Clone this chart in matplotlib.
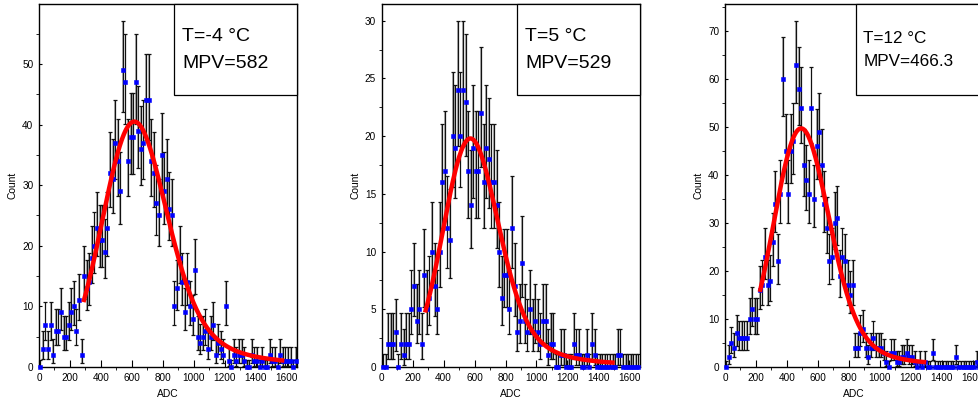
import math
import numpy as np
import matplotlib
matplotlib.use("Agg")
import matplotlib.pyplot as plt
from matplotlib.patches import Rectangle
from matplotlib.ticker import MultipleLocator

plt.rcParams['font.family'] = ['Liberation Sans', 'DejaVu Sans']

# histogram: 100 bins from 0 to 1666.7 ADC
adc_max = 1666.7
n_bins = 100

counts_m4 = [0, 3, 7, 3, 7, 2, 6, 6, 9, 5, 5, 7, 9, 10, 6, 11, 2,
             15, 13, 14, 18, 20, 23, 21, 21, 19, 23, 32, 31,
             37, 34, 29, 49, 47, 34, 38, 38, 47, 39, 36, 37, 44, 44, 34,
             32, 27, 25, 35, 29, 31, 26, 25,
             10, 13, 18, 14, 9, 14, 10, 8, 16,
             5, 4, 5, 6, 3, 5, 7, 2, 4, 3, 2, 10,
             1, 0, 2, 1, 2, 2, 1, 0, 0, 2, 1, 1, 0, 1, 0, 0, 2, 1, 1, 0, 2,
             1, 1, 1, 1, 0, 1]

counts_p5 = [0, 0, 2, 2, 2, 3, 0, 2, 1, 2, 2, 5, 7, 4, 5, 2, 8, 5, 6, 10, 7,
             5, 10, 16, 17, 12, 11, 20, 19, 24, 20, 24, 23, 17, 14, 19, 17, 17,
             22, 16, 19, 18, 16, 16,
             14, 10, 6, 8, 8, 5, 12, 7, 3, 4, 9, 4, 3,
             5, 3, 4, 3, 2, 4, 4, 1, 2, 2,
             0, 0, 1, 1, 0, 0, 0, 2, 1, 1, 0, 0, 1, 0, 2, 1,
             0, 0, 0, 0, 0, 0, 0, 0, 1, 1, 0, 0, 0, 0, 0, 0, 0]

counts_p12 = [0, 2, 5, 4, 7, 6, 6, 6, 6, 10, 12, 10, 10, 16, 17,
              23, 17, 18, 26, 34, 22, 36, 60, 45, 36, 45, 47,
              63, 58, 54, 42, 39, 36, 54, 35, 46, 49, 42, 34, 29, 22, 23, 30,
              31, 19, 23, 22, 17, 15, 17, 4, 4,
              7, 8, 4, 2, 4, 6, 4, 4, 4, 3, 1, 0, 3, 3, 1, 1, 2, 2, 3, 2, 2, 1, 0,
              1, 0, 1, 0, 0, 3, 0, 0, 0, 0, 0, 0, 0, 0, 2, 0, 0, 0, 0, 0, 0, 0,
              1, 0, 0]

temps = ["-4", "5", "12"]
mpv_text = ["582", "529", "466.3"]

# fitted landau (x) gauss curve
fit_peak_x = [615, 572, 492]
fit_peak_y = [40.5, 19.8, 49.7]
fit_landau_w = [35, 28, 22]
fit_gauss_sigma = [185, 160, 165]
fit_lo = [287, 280, 225]
fit_hi = [1585, 1505, 1300]

y_top = [59.9, 31.45, 75.6]
y_major = [10, 5, 10]
y_minor = [5, 2.5, 5]


def pois_cdf(n, mu):
    k = np.arange(n + 1)
    lg = np.array([math.lgamma(i + 1) for i in k])
    return np.exp(-mu + k * np.log(mu) - lg).sum()


def find_mu(n, target):
    lo, hi = 1e-9, 200.0
    for _ in range(70):
        mid = 0.5 * (lo + hi)
        if pois_cdf(n, mid) > target:
            lo = mid
        else:
            hi = mid
    return 0.5 * (lo + hi)


def poisson_errors(counts):
    a = (1 - 0.682689492) / 2
    lo_err, hi_err = [], []
    for n in counts:
        if n == 0:
            lo_err.append(0.0)
            hi_err.append(-math.log(2 * a))
        else:
            lo_err.append(n - find_mu(n - 1, 1 - a))
            hi_err.append(find_mu(n, a) - n)
    return np.array(lo_err), np.array(hi_err)


# landau density on a grid (numerical integral)
t = np.linspace(1e-12, 50, 20001)
lam_grid = np.linspace(-3.2, 80, 900)
phi = np.array([np.trapezoid(np.exp(-t * np.log(t) - l * t) * np.sin(np.pi * t), t)
                for l in lam_grid]) / np.pi


def langaus_shape(x, w, sigma):
    xs = np.arange(-1500, 4000, 2.0)
    lam = xs / w
    land = np.interp(lam, lam_grid, phi, left=0, right=0)
    land = np.where(lam > 80, 1 / lam ** 2, land) / w
    g = np.exp(-0.5 * ((x[:, None] - xs[None, :]) / sigma) ** 2)
    return (g * land[None, :]).sum(axis=1)


def fit_curve(i):
    xx = np.linspace(-600, 2200, 1401)
    s = langaus_shape(xx, fit_landau_w[i], fit_gauss_sigma[i])
    x0 = xx[np.argmax(s)]
    xc = np.linspace(fit_lo[i], fit_hi[i], 300)
    yc = np.interp(xc - fit_peak_x[i] + x0, xx, s) / s.max() * fit_peak_y[i]
    return xc, yc


bw = adc_max / n_bins
centers = (np.arange(n_bins) + 0.5) * bw

fig = plt.figure(figsize=(9.79, 4.03), dpi=100)
lefts = [39, 381.7, 725]
box_left = [174, 517.3, 856]
txt_left = [182, 525, 863.3]
txt_size = [14, 14, 12.3]
txt_y = [(36, 63), (36, 63), (38.7, 61.3)]
all_counts = [counts_m4, counts_p5, counts_p12]

for i in range(3):
    ax = fig.add_axes([lefts[i] / 979, 36 / 403, 258 / 979, 363 / 403])
    c = np.array(all_counts[i])
    lo_e, hi_e = poisson_errors(c)
    # grey shading that the dense error bars leave in the original
    ax.bar(centers, lo_e + hi_e, bottom=c - lo_e, width=0.65 * bw,
           color='#b4b4b4', lw=0, zorder=1)
    ax.errorbar(centers, c, yerr=[lo_e, hi_e], fmt='none', ecolor='#111111',
                elinewidth=0.9, capsize=1.3, capthick=0.9, zorder=2)
    ax.plot(centers, c, 's', ms=2.3, color='#0000ff', mec='#0000ff', mew=0.4,
            zorder=3, clip_on=False)
    xc, yc = fit_curve(i)
    ax.plot(xc, yc, color='#ff0000', lw=3.2, zorder=4, solid_capstyle='butt')

    ax.set_xlim(0, adc_max)
    ax.set_ylim(0, y_top[i])
    ax.xaxis.set_major_locator(MultipleLocator(200))
    ax.xaxis.set_minor_locator(MultipleLocator(100))
    ax.yaxis.set_major_locator(MultipleLocator(y_major[i]))
    ax.yaxis.set_minor_locator(MultipleLocator(y_minor[i]))
    ax.tick_params(direction='in', top=False, right=False, labelsize=7.2,
                   width=0.8, colors='black')
    ax.tick_params(axis='x', which='major', length=5, pad=4)
    ax.tick_params(axis='x', which='minor', length=2.5)
    ax.tick_params(axis='y', which='major', length=2.5, pad=4)
    ax.tick_params(axis='y', which='minor', length=2.5)
    for sp in ax.spines.values():
        sp.set_linewidth(1.0)
    ax.set_xlabel("ADC", fontsize=7.4)
    ax.set_ylabel("Count", fontsize=7.4)
    ax.xaxis.set_label_coords(0.5, -21.7 / 363)
    ax.yaxis.set_label_coords(-21.5 / 258, 0.5)

    bx = (box_left[i] - lefts[i]) / 258
    by = (367 - 95) / 363
    ax.add_patch(Rectangle((bx, by), 1 - bx, 1 - by, transform=ax.transAxes,
                           facecolor='white', edgecolor='black', lw=0.9,
                           zorder=5, clip_on=False))
    tx = (txt_left[i] - lefts[i]) / 258
    ax.text(tx, (367 - txt_y[i][0]) / 363, "T=" + temps[i] + " \u00b0C",
            transform=ax.transAxes, fontsize=txt_size[i], va='center', zorder=6)
    ax.text(tx, (367 - txt_y[i][1]) / 363, "MPV=" + mpv_text[i],
            transform=ax.transAxes, fontsize=txt_size[i], va='center', zorder=6)

fig.savefig("out.png", dpi=100)
